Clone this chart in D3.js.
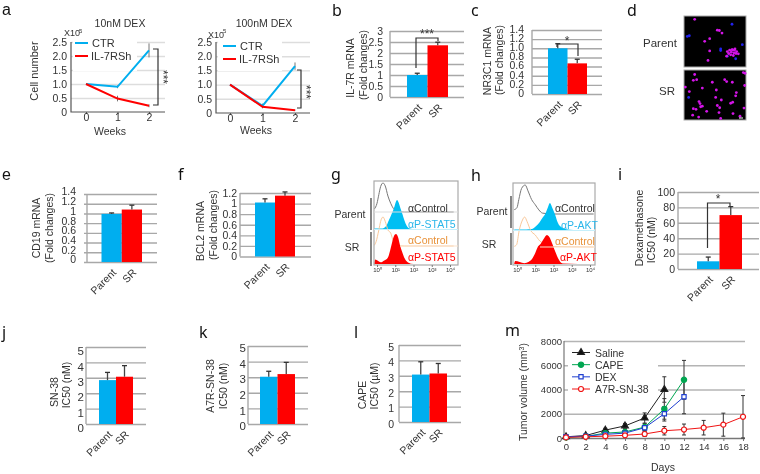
<!DOCTYPE html>
<html>
<head>
<meta charset="utf-8">
<script src="https://cdn.jsdelivr.net/npm/d3@7"></script>
<style>
  html, body { margin: 0; padding: 0; background: #fff; }
  text { font-family: "Liberation Sans", Arial, sans-serif; fill: #333; }
  svg { filter: blur(0.35px); }
</style>
</head>
<body>
<script>
const w = 760;
const h = 474;

const blue = "#00aeef";
const red = "#ff0000";
const groups = ["Parent", "SR"];

// panel a
const weeks = [0, 1, 2];
const a1Ctr = [1.0, 0.9, 2.2];
const a1CtrErr = [0, 0.05, 0.25];
const a1Sh = [1.0, 0.48, 0.22];
const a1ShErr = [0, 0.1, 0.05];
const a2Ctr = [1.0, 0.25, 1.65];
const a2CtrErr = [0, 0.08, 0.13];
const a2Sh = [1.0, 0.22, 0.1];
const a2ShErr = [0, 0.05, 0.02];
const aTicks = [0, 0.5, 1, 1.5, 2, 2.5];
const aTickLabels = ["0", "0.5", "1.0", "1.5", "2.0", "2.5"];

// bar panels
const bValues = [1.0, 2.35];
const bErrors = [0.08, 0.14];
const bTicks = ["0", "0.5", "1", "1.5", "2", "2.5", "3"];
const cValues = [1.0, 0.67];
const cErrors = [0.1, 0.09];
const cTicks = ["0", "0.2", "0.4", "0.6", "0.8", "1.0", "1.2", "1.4"];
const eValues = [0.99, 1.08];
const eErrors = [0.02, 0.09];
const eTicks = ["0", "0.2", "0.4", "0.6", "0.8", "1", "1.2", "1.4"];
const fValues = [1.02, 1.15];
const fErrors = [0.07, 0.07];
const fTicks = ["0", "0.2", "0.4", "0.6", "0.8", "1", "1.2"];
const iValues = [10, 70];
const iErrors = [5.5, 11];
const iTicks = ["0", "20", "40", "60", "80", "100"];
const jValues = [2.85, 3.07];
const jErrors = [0.5, 0.72];
const kValues = [3.03, 3.2];
const kErrors = [0.35, 0.75];
const lValues = [3.08, 3.15];
const lErrors = [0.83, 0.65];
const icTicks = ["0", "1", "2", "3", "4", "5"];

// panel d, cells
const dParentPink = [[32,10],[100,43],[106,44],[114,52],[62,77],[77,69],[77,106],[72,135],[163,115],[130,108],[137,104],[144,102],[151,104],[158,108],[134,114],[142,110],[150,112],[156,114],[140,118],[148,120],[128,122],[146,103],[153,100]];
const dParentBlue = [[10,62],[16,60],[110,105],[110,100],[144,25],[175,87],[130,122],[155,130]];
const dSrPink = [[32,14],[178,8],[183,10],[28,32],[38,30],[85,38],[122,30],[128,36],[145,38],[4,53],[55,56],[97,62],[182,48],[157,70],[155,80],[16,67],[95,85],[112,93],[45,98],[48,104],[146,100],[140,103],[100,110],[107,117],[50,114],[55,112],[28,120],[36,122],[68,128],[105,132],[180,118],[147,135],[168,143],[26,140],[44,146],[110,150]];
const dSrBlue = [[14,85]];

// panels g and h, histograms as log decade and relative height
const flowTicks = ["10\u2070", "10\u00b9", "10\u00b2", "10\u00b3", "10\u2074"];
const gGrayX = [-0.15, 0, 0.1, 0.2, 0.33, 0.45, 0.6, 0.75, 0.9, 1.1, 1.5, 4.2];
const gGrayY = [0.1, 0.3, 0.6, 0.88, 1.0, 0.9, 0.55, 0.3, 0.12, 0.02, 0, 0];
const gBlueX = [-0.15, 0.3, 0.5, 0.65, 0.8, 0.92, 1.1, 1.18, 1.28, 1.4, 1.5, 1.62, 1.75, 2.1, 4.2];
const gBlueY = [0.02, 0.02, 0.1, 0.3, 0.52, 0.7, 1.0, 0.92, 0.72, 0.5, 0.3, 0.12, 0.03, 0, 0];
const gOrangeX = [-0.15, -0.05, 0.1, 0.2, 0.33, 0.45, 0.6, 0.75, 0.9, 1.1, 1.5, 4.2];
const gOrangeY = [0.02, 0.15, 0.55, 0.85, 1.0, 0.85, 0.55, 0.45, 0.15, 0.02, 0, 0];
const gRedX = [-0.15, -0.1, 0.2, 0.4, 0.6, 0.72, 0.82, 0.92, 1.04, 1.15, 1.25, 1.38, 1.52, 1.7, 2.0, 4.2];
const gRedY = [0.02, 0.15, 0.06, 0.12, 0.22, 0.45, 0.7, 0.92, 1.0, 0.9, 0.65, 0.4, 0.18, 0.05, 0, 0];
const hGrayX = [-0.15, 0, 0.1, 0.25, 0.45, 0.6, 0.8, 1.0, 1.2, 1.4, 2, 4.2];
const hGrayY = [0.15, 0.22, 0.5, 0.88, 1.0, 0.8, 0.5, 0.32, 0.14, 0.03, 0, 0];
const hBlueX = [-0.15, 0.2, 0.8, 1.05, 1.25, 1.4, 1.55, 1.7, 1.8, 1.95, 2.1, 2.22, 2.35, 2.7, 3.1, 4.2];
const hBlueY = [0.02, 0.02, 0.04, 0.15, 0.3, 0.45, 0.6, 0.85, 1.0, 0.8, 0.55, 0.3, 0.15, 0.03, 0, 0];
const hOrangeX = [-0.15, -0.02, 0.12, 0.3, 0.42, 0.55, 0.75, 1.0, 1.25, 1.45, 1.8, 4.2];
const hOrangeY = [0.02, 0.08, 0.55, 0.9, 1.0, 0.85, 0.55, 0.4, 0.2, 0.12, 0.02, 0];
const hRedX = [-0.15, -0.1, 0.4, 0.65, 0.85, 1.0, 1.15, 1.3, 1.45, 1.64, 1.78, 1.9, 2.1, 2.25, 2.5, 4.2];
const hRedY = [0.02, 0.1, 0.03, 0.08, 0.2, 0.38, 0.6, 0.7, 0.85, 1.0, 0.92, 0.75, 0.42, 0.2, 0.02, 0];

// panel m
const days = [0, 2, 4, 6, 8, 10, 12, 14, 16, 18];
const volTicks = [0, 2000, 4000, 6000, 8000];
const saline = [100, 200, 650, 1000, 1650, 4000];
const salineErr = [50, 80, 150, 200, 420, 1050];
const cape = [50, 130, 400, 500, 900, 2400, 4800];
const capeErr = [30, 60, 100, 150, 300, 850, 1600];
const dex = [100, 150, 300, 400, 850, 2000, 3400];
const dexErr = [30, 60, 80, 120, 200, 600, 1400];
const a7r = [50, 100, 150, 220, 330, 600, 700, 850, 1100, 1750];
const a7rErr = [20, 40, 50, 60, 200, 350, 450, 600, 950, 1750];

const svg = d3.select("body")
  .append("svg")
    .attr("width", w)
    .attr("height", h)
    .style("display", "block");

svg.append("rect").attr("width", w).attr("height", h).attr("fill", "white");

function addText(str, x, y, size, opts = {}) {
  const t = svg.append("text")
      .attr("x", x)
      .attr("y", y)
      .attr("font-size", size)
      .attr("text-anchor", opts.anchor || "middle")
      .text(str);
  if (opts.rotate !== undefined) t.attr("transform", `rotate(${opts.rotate} ${x} ${y})`);
  if (opts.fill) t.style("fill", opts.fill);
  if (opts.family) t.style("font-family", opts.family);
  return t;
}

function panelLetter(str, x, y, family) {
  addText(str, x, y, 16, {anchor: "start", fill: "#111", family: family || "Noto Sans"});
}

function polyline(points, color, width) {
  svg.append("path")
      .attr("d", d3.line()(points))
      .attr("fill", "none")
      .attr("stroke", color)
      .attr("stroke-width", width);
}

// y axis drawn with d3 and restyled, grid lines come from the tick size
function leftAxis(scale, values, labels, x, right, size, gridColor, padding = 4, labelDy = 0) {
  const g = svg.append("g")
      .attr("transform", `translate(${x},0)`)
      .call(d3.axisLeft(scale)
        .tickValues(values)
        .tickFormat((d, i) => labels[i])
        .tickSize(-(right - x))
        .tickPadding(padding));
  g.select(".domain").remove();
  g.selectAll("line").attr("stroke", gridColor).attr("stroke-width", 1.4);
  g.selectAll("text").attr("font-size", size).attr("transform", `translate(0,${labelDy})`);
  return g;
}

function barPanel(o) {
  const y = d3.scaleLinear().domain([0, +o.ticks[o.ticks.length - 1]]).range([o.y0, o.y1]);
  const x = d3.scaleBand().domain(groups).range([o.barLeft, o.barRight]);
  leftAxis(y, o.ticks.map(Number), o.ticks, o.left, o.right, o.size || 10.5, "#a8a8a8", o.padding, o.labelDy);
  polyline([[o.axisX || o.left, o.y0], [o.axisX || o.left, o.y1]], "#a8a8a8", 1.4);

  svg.selectAll(null)
    .data(o.values)
    .enter().append("rect")
      .attr("x", (d, i) => x(groups[i]))
      .attr("y", d => y(d))
      .attr("width", x.bandwidth())
      .attr("height", d => o.y0 - y(d))
      .attr("fill", (d, i) => i === 0 ? blue : red);

  o.values.forEach((d, i) => {
    const cx = x(groups[i]) + x.bandwidth() / 2;
    polyline([[cx, y(d)], [cx, y(d + o.errors[i])]], "#444", 1.3);
    polyline([[cx - 2.5, y(d + o.errors[i])], [cx + 2.5, y(d + o.errors[i])]], "#333", 1.3);
    addText(groups[i], cx + 3, o.y0 + 9, 10.5, {anchor: "end", rotate: -45}).attr("dy", "0.3em");
  });

  o.titles.forEach(t => addText(t[0], t[1], t[2], 10.5, {rotate: -90}));
}

function bracket(points, label, sx, sy, rotate) {
  polyline(points, "#333", 1.2);
  addText(label, sx, sy, 12, rotate === undefined ? {} : {rotate});
}

// panel a
function linePanel(o) {
  const x = d3.scalePoint().domain(weeks).range([o.x0, o.x2]);
  const y = d3.scaleLinear().domain([0, 2.5]).range([o.y0, o.y1]);
  const grid = leftAxis(y, aTicks, aTickLabels, o.left, o.right, 10.5, "#dddddd", 4);
  grid.selectAll("line").filter(d => d === 0).attr("stroke", "none");

  // legend sits on a white patch that hides the grid
  svg.append("rect").attr("x", o.left + 2).attr("y", o.y1 - 3).attr("width", o.legendW).attr("height", 32).attr("fill", "white");

  polyline([[o.left, o.y1], [o.left, o.y0], [o.right, o.y0]], "#555", 1.2);
  const bottom = d3.axisBottom(x).tickSize(2).tickPadding(-0.5);
  const xg = svg.append("g").attr("transform", `translate(0,${o.y0})`).call(bottom);
  xg.select(".domain").remove();
  xg.selectAll("line").attr("stroke", "#555");
  xg.selectAll("text").attr("font-size", 10.5);

  const path = d3.line().x((d, i) => x(weeks[i])).y(d => y(d));
  [[o.ctr, o.ctrErr, blue], [o.sh, o.shErr, red]].forEach(s => {
    s[0].forEach((d, i) => {
      if (s[1][i] > 0) polyline([[x(weeks[i]), y(d + s[1][i])], [x(weeks[i]), y(d - s[1][i])]], "#777", 1);
    });
    svg.append("path")
        .attr("d", path(s[0]))
        .attr("fill", "none")
        .attr("stroke", s[2])
        .attr("stroke-width", 2);
  });

  const ly = o.y1 + o.legDy;
  polyline([[o.legX, ly], [o.legX + 13, ly]], blue, 2);
  polyline([[o.legX, ly + 13], [o.legX + 13, ly + 13]], red, 2);
  addText("CTR", o.legX + 17, ly + 4, 11, {anchor: "start"});
  addText("IL-7RSh", o.legX + 16, ly + 17, 11, {anchor: "start"});
}

panelLetter("a", 2, 15, "Liberation Sans");
addText("10nM DEX", 120, 27, 10.5);
addText("100nM DEX", 264, 27, 10.5);
addText("X10", 64, 36, 9, {anchor: "start"});
addText("5", 79, 33, 6, {anchor: "start"});
addText("X10", 208, 38, 9, {anchor: "start"});
addText("5", 223, 33, 6, {anchor: "start"});
addText("Cell number", 38, 71, 11, {rotate: -90});
addText("Weeks", 110, 135, 10.5);
addText("Weeks", 256, 134, 10.5);

linePanel({left: 71, right: 165, x0: 86, x2: 149, y0: 112, y1: 42, legendW: 64, legX: 75, legDy: 1,
  ctr: a1Ctr, ctrErr: a1CtrErr, sh: a1Sh, shErr: a1ShErr});
linePanel({left: 216, right: 310, x0: 230, x2: 295, y0: 113, y1: 42, legendW: 64, legX: 223, legDy: 4,
  ctr: a2Ctr, ctrErr: a2CtrErr, sh: a2Sh, shErr: a2ShErr});

bracket([[153, 49], [158, 49], [158, 105], [153, 105]], "***", 159, 77, 90);
bracket([[297, 70], [301, 70], [301, 108], [297, 108]], "***", 302, 92, 90);

// panels b, c
panelLetter("b", 332, 16);
barPanel({left: 390, right: 464, y0: 97, y1: 31, barLeft: 407, barRight: 448, values: bValues, errors: bErrors, ticks: bTicks, padding: 7,
  titles: [["IL-7R mRNA", 354, 68], ["(Fold changes)", 367, 65]]});
bracket([[416, 68], [416, 38], [438, 38], [438, 41]], "***", 427, 38);

panelLetter("c", 471, 16);
barPanel({left: 532, right: 602, y0: 94, y1: 30, barLeft: 548, barRight: 587, values: cValues, errors: cErrors, ticks: cTicks, padding: 8, labelDy: -1,
  titles: [["NR3C1 mRNA", 491, 61], ["(Fold changes)", 503, 60]]});
bracket([[557, 47], [557, 44], [578, 44], [578, 56]], "*", 567, 45);

// panel d
panelLetter("d", 627, 16);
addText("Parent", 660, 47, 11.5);
addText("SR", 667, 95, 11.5);

function micrograph(x0, y0, width, height, pink, bluePts) {
  const sx = d3.scaleLinear().domain([0, 186]).range([x0, x0 + width]);
  const sy = d3.scaleLinear().domain([0, 155]).range([y0, y0 + height]);
  svg.append("rect")
      .attr("x", x0).attr("y", y0).attr("width", width).attr("height", height)
      .attr("fill", "black").attr("stroke", "#aaa").attr("stroke-width", 1);
  [[bluePts, "#2222ee"], [pink, "#d414e8"]].forEach(s => {
    svg.append("g").selectAll("circle")
      .data(s[0])
      .enter().append("circle")
        .attr("cx", d => sx(d[0]))
        .attr("cy", d => sy(d[1]))
        .attr("r", 1.4)
        .attr("fill", s[1]);
  });
}
micrograph(684, 16, 62, 51, dParentPink, dParentBlue);
micrograph(684, 70, 62, 50, dSrPink, dSrBlue);
polyline([[739, 118], [743, 118]], "white", 1);

// panels e, f
panelLetter("e", 2, 180, "Liberation Sans");
barPanel({left: 84, right: 157, axisX: 87, y0: 262, y1: 194, barLeft: 101.5, barRight: 142, values: eValues, errors: eErrors, ticks: eTicks, padding: 8, labelDy: -2.5,
  titles: [["CD19 mRNA", 40, 228], ["(Fold changes)", 53, 228]]});

panelLetter("f", 178, 180);
barPanel({left: 240, right: 311, y0: 256.5, y1: 193, barLeft: 255, barRight: 295, values: fValues, errors: fErrors, ticks: fTicks, padding: 3,
  titles: [["BCL2 mRNA", 204, 231], ["(Fold changes)", 217, 225]]});

// panels g, h
function flowPanel(o) {
  const x = d3.scaleLinear().domain([0, 4]).range([o.tick0, o.tick4]);
  const clip = "clip" + o.id;
  svg.append("clipPath").attr("id", clip).append("rect")
      .attr("x", o.left).attr("y", o.top).attr("width", o.right - o.left).attr("height", o.bottom - o.top);
  const layer = svg.append("g").attr("clip-path", `url(#${clip})`);

  o.curves.forEach(c => {
    const y = d3.scaleLinear().domain([0, 1]).range([c.base, c.peak]);
    const pts = c.xs.map((d, i) => [d, c.ys[i]]);
    if (c.fill) {
      layer.append("path")
          .attr("d", d3.area().x(d => x(d[0])).y0(c.base).y1(d => y(d[1])).curve(d3.curveMonotoneX)(pts))
          .attr("fill", c.color);
    } else {
      layer.append("path")
          .attr("d", d3.line().x(d => x(d[0])).y(d => y(d[1])).curve(d3.curveMonotoneX)(pts))
          .attr("fill", "none")
          .attr("stroke", c.color)
          .attr("stroke-width", 1);
    }
  });

  svg.append("rect")
      .attr("x", o.left).attr("y", o.top).attr("width", o.right - o.left).attr("height", o.bottom - o.top)
      .attr("fill", "none").attr("stroke", "#aaa").attr("stroke-width", 1.2);

  const axis = svg.append("g")
      .attr("transform", `translate(0,${o.bottom})`)
      .call(d3.axisBottom(x).tickValues([0, 1, 2, 3, 4]).tickFormat((d, i) => flowTicks[i]).tickSize(2).tickPadding(1));
  axis.select(".domain").remove();
  axis.selectAll("line").attr("stroke", "#777");
  axis.selectAll("text").attr("font-size", 6);

  polyline([[o.bar, o.bar1], [o.bar, o.bar2]], "#666", 1.6);
  polyline([[o.bar, o.bar3], [o.bar, o.bar4]], "#666", 1.6);
}

panelLetter("g", 331, 180);
flowPanel({id: "g", left: 374, right: 458, top: 181, bottom: 265, tick0: 377, tick4: 450, bar: 371, bar1: 198, bar2: 230, bar3: 232, bar4: 266,
  curves: [
    {xs: gGrayX, ys: gGrayY, base: 212, peak: 183, color: "#777"},
    {xs: gBlueX, ys: gBlueY, base: 229, peak: 200, color: "#00bff3", fill: true},
    {xs: gOrangeX, ys: gOrangeY, base: 246, peak: 217, color: "#f9c89a"},
    {xs: gRedX, ys: gRedY, base: 264, peak: 234, color: red, fill: true}
  ]});
polyline([[374, 212], [458, 212]], "#ddd", 1);
polyline([[374, 229.5], [458, 229.5]], "#c5effb", 1);
polyline([[400, 246], [458, 246]], "#fbe3cc", 1);
addText("Parent", 350, 218, 10.5);
addText("SR", 352, 251, 10.5);
addText("\u03b1Control", 408, 212, 10.5, {anchor: "start"});
addText("\u03b1P-STAT5", 408, 228, 10.5, {anchor: "start", fill: "#29b6ea"});
addText("\u03b1Control", 408, 244, 10.5, {anchor: "start", fill: "#e8923a"});
addText("\u03b1P-STAT5", 408, 261, 10.5, {anchor: "start", fill: red});

panelLetter("h", 471, 181);
flowPanel({id: "h", left: 513, right: 595, top: 183, bottom: 265, tick0: 517, tick4: 590, bar: 511, bar1: 196, bar2: 228, bar3: 233, bar4: 265,
  curves: [
    {xs: hGrayX, ys: hGrayY, base: 214, peak: 185, color: "#777"},
    {xs: hBlueX, ys: hBlueY, base: 230, peak: 203, color: "#00bff3", fill: true},
    {xs: hOrangeX, ys: hOrangeY, base: 247, peak: 217, color: "#f9c89a"},
    {xs: hRedX, ys: hRedY, base: 264, peak: 235, color: red, fill: true}
  ]});
polyline([[513, 230.5], [595, 230.5]], "#c5effb", 1);
polyline([[540, 247], [595, 247]], "#fbe3cc", 1);
addText("Parent", 492, 215, 10.5);
addText("SR", 489, 248, 10.5);
addText("\u03b1Control", 555, 212, 10.5, {anchor: "start"});
addText("\u03b1P-AKT", 561, 229, 10.5, {anchor: "start", fill: "#29b6ea"});
addText("\u03b1Control", 555, 245, 10.5, {anchor: "start", fill: "#e8923a"});
addText("\u03b1P-AKT", 560, 261, 10.5, {anchor: "start", fill: red});

// panel i
panelLetter("i", 618, 180);
barPanel({left: 678, right: 759, y0: 269, y1: 192, barLeft: 697, barRight: 742, values: iValues, errors: iErrors, ticks: iTicks, padding: 3,
  titles: [["Dexamethasone", 643, 228], ["IC50 (nM)", 655, 240]]});
bracket([[707.5, 248], [707.5, 203], [730, 203], [730, 207]], "*", 718, 203);

// panels j, k, l
panelLetter("j", 2, 338);
barPanel({left: 86, right: 146, y0: 424, y1: 347, barLeft: 99, barRight: 133, values: jValues, errors: jErrors, ticks: icTicks, size: 11.5, padding: 2, labelDy: 4,
  titles: [["SN-38", 58, 392], ["IC50 (nM)", 70, 385]]});

panelLetter("k", 199, 338);
barPanel({left: 248, right: 308, y0: 424, y1: 346, barLeft: 260, barRight: 295, values: kValues, errors: kErrors, ticks: icTicks, size: 11.5, padding: 2, labelDy: 2,
  titles: [["A7R-SN-38", 214, 386], ["IC50 (nM)", 227, 386]]});

panelLetter("l", 354, 338);
barPanel({left: 399, right: 461, y0: 422, y1: 345, barLeft: 412, barRight: 447, values: lValues, errors: lErrors, ticks: icTicks, padding: 5, labelDy: 2,
  titles: [["CAPE", 366, 395], ["IC50 (\u00b5M)", 378, 386]]});

// panel m
panelLetter("m", 505, 336);
const xDays = d3.scaleLinear().domain([0, 18]).range([566, 743]);
const yVol = d3.scaleLinear().domain([0, 8000]).range([438, 341]);

leftAxis(yVol, volTicks, volTicks.map(String), 564, 745, 9.5, "#b4b4b4", 2)
  .selectAll("line").filter(d => d === 0).attr("stroke", "#777");
svg.append("rect").attr("x", 568).attr("y", 345).attr("width", 90).attr("height", 52).attr("fill", "white");
polyline([[564, 341], [564, 438]], "#777", 1.2);

const xDaysAxis = svg.append("g")
    .attr("transform", "translate(0,438)")
    .call(d3.axisBottom(xDays).tickValues(days).tickSize(3).tickPadding(2));
xDaysAxis.select(".domain").remove();
xDaysAxis.selectAll("line").attr("stroke", "#777");
xDaysAxis.selectAll("text").attr("font-size", 9.5);

addText("Days", 663, 471, 10.5);
const volTitle = addText("Tumor volume (mm", 527, 392, 10.5, {rotate: -90});
volTitle.append("tspan").attr("dy", -3).attr("font-size", 7).text("3");
volTitle.append("tspan").attr("dy", 3).text(")");

const mSeries = [
  {name: "Saline", values: saline, errors: salineErr, color: "#222", marker: d3.symbolTriangle, fill: "#111", size: 20},
  {name: "CAPE", values: cape, errors: capeErr, color: "#00a651", marker: d3.symbolCircle, fill: "#00a651", size: 22},
  {name: "DEX", values: dex, errors: dexErr, color: "#1f3fd0", marker: d3.symbolSquare, fill: "white", size: 18},
  {name: "A7R-SN-38", values: a7r, errors: a7rErr, color: "#f01414", marker: d3.symbolCircle, fill: "white", size: 20}
];

const legY = d3.scalePoint().domain(mSeries.map(d => d.name)).range([352.5, 389]);

mSeries.forEach(s => {
  s.values.forEach((d, i) => {
    const cx = xDays(days[i]);
    const hi = yVol(d + s.errors[i]);
    const lo = yVol(Math.max(0, d - s.errors[i]));
    polyline([[cx, hi], [cx, lo]], "#444", 1.1);
    polyline([[cx - 2, hi], [cx + 2, hi]], "#333", 1);
    polyline([[cx - 2, lo], [cx + 2, lo]], "#333", 1);
  });
});

mSeries.forEach(s => {
  svg.append("path")
      .attr("d", d3.line().x((d, i) => xDays(days[i])).y(d => yVol(d))(s.values))
      .attr("fill", "none")
      .attr("stroke", s.color)
      .attr("stroke-width", 1);
  const sym = d3.symbol().type(s.marker).size(s.size);
  svg.append("g").selectAll("path")
    .data(s.values)
    .enter().append("path")
      .attr("d", sym)
      .attr("transform", (d, i) => `translate(${xDays(days[i])},${yVol(d)})`)
      .attr("fill", s.fill)
      .attr("stroke", s.color)
      .attr("stroke-width", 1.2);

  polyline([[572, legY(s.name)], [590, legY(s.name)]], s.color, 1);
  svg.append("path")
      .attr("d", sym)
      .attr("transform", `translate(581,${legY(s.name)})`)
      .attr("fill", s.fill)
      .attr("stroke", s.color)
      .attr("stroke-width", 1.2);
  addText(s.name, 595, legY(s.name) + 4, 10.5, {anchor: "start"});
});
</script>
</body>
</html>
